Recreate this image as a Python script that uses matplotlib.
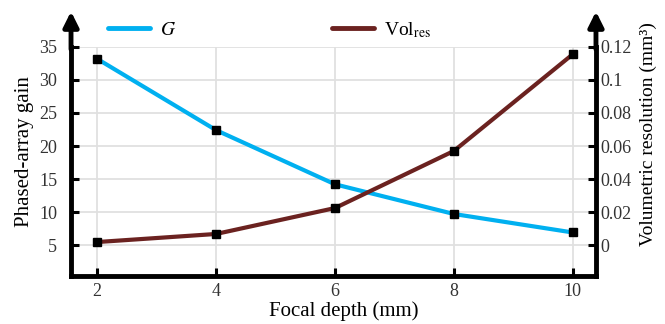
import matplotlib
matplotlib.use('Agg')
import matplotlib.pyplot as plt
from matplotlib.lines import Line2D

plt.rcParams['font.family'] = ['Liberation Serif', 'DejaVu Serif']
plt.rcParams['mathtext.fontset'] = 'stix'

# Data
depth = [2, 4, 6, 8, 10]
gain = [33.2, 22.4, 14.2, 9.7, 6.9]
vol_res = [0.0018, 0.0067, 0.0224, 0.057, 0.1156]

fig = plt.figure(figsize=(6.65, 3.24), dpi=100)
ax1 = fig.add_axes([0.1068, 0.148, 0.7894, 0.707])
ax2 = ax1.twinx()

c_gain = '#00b0f0'
c_vol = '#6b2220'

# Gain line
ax1.plot(depth, gain, color=c_gain, lw=3, marker='s', ms=6,
         mfc='black', mec='black', zorder=3)
# Volumetric resolution line (secondary axis)
ax2.plot(depth, vol_res, color=c_vol, lw=3, marker='s', ms=6,
         mfc='black', mec='black', zorder=3)

ax1.set_xlim(1.56, 10.39)
ax1.set_ylim(0.3, 35)
ax2.set_ylim((0.3 - 5) * 0.004, 0.12)
ax1.set_xticks(depth)
ax1.set_yticks([5, 10, 15, 20, 25, 30, 35])
ax2.set_yticks([0, 0.02, 0.04, 0.06, 0.08, 0.1, 0.12])
ax2.set_yticklabels(['0', '0.02', '0.04', '0.06', '0.08', '0.1', '0.12'])

ax1.grid(True, color='#e0e0e0', lw=1.3)
ax1.set_axisbelow(True)

for ax in (ax1, ax2):
    for s in ax.spines.values():
        s.set_visible(False)
    ax.tick_params(direction='in', length=6, width=2.2, labelsize=13,
                   color='black', labelcolor='#333333')
ax1.spines['left'].set_visible(True)
ax1.spines['bottom'].set_visible(True)
ax1.spines['left'].set_linewidth(3.5)
ax1.spines['bottom'].set_linewidth(3.5)
ax2.spines['right'].set_visible(True)
ax2.spines['right'].set_linewidth(3.5)
ax1.tick_params(axis='x', pad=5)
ax1.tick_params(axis='y', pad=10)
ax2.tick_params(axis='y', pad=3)

# arrows on vertical axes
for xa in (0, 1):
    ax1.annotate('', xy=(xa, 1.155), xytext=(xa, 0.99), xycoords='axes fraction',
                 arrowprops=dict(arrowstyle='-|>,head_length=0.9,head_width=0.45',
                                 lw=3.5, color='black', shrinkA=0, shrinkB=0),
                 annotation_clip=False)

fig.text(0.5165, 0.04, 'Focal depth (mm)', fontsize=15, ha='center', va='center')
fig.text(25 / 665, 1 - 151.5 / 324, 'Phased-array gain', fontsize=15,
         rotation=90, ha='center', va='center')
fig.text(648 / 665, 1 - 134 / 324, 'Volumetric resolution (mm³)', fontsize=14,
         rotation=90, ha='center', va='center')

handles = [Line2D([], [], color=c_gain, lw=3.5, solid_capstyle='round'),
           Line2D([], [], color=c_vol, lw=3.5, solid_capstyle='round')]
fig.legend(handles, ['$G$', 'Vol$_{\\mathrm{res}}$'], loc='center',
           bbox_to_anchor=(0.405, 0.907), ncol=2, frameon=False, fontsize=14,
           handlelength=2.2, handletextpad=0.5, columnspacing=8.0)

fig.savefig('out.png', dpi=100)
